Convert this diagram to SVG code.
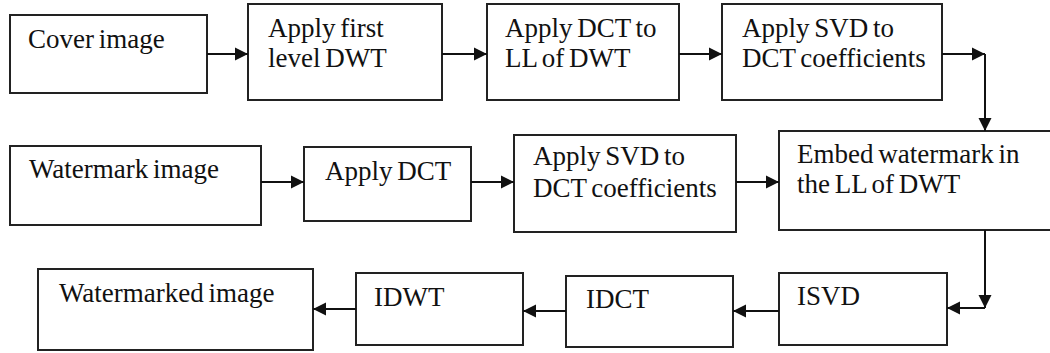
<svg xmlns="http://www.w3.org/2000/svg" width="1050" height="353" viewBox="0 0 1050 353">
  <style>
    .box { fill: #ffffff; stroke: #222222; stroke-width: 2; }
    .wire { fill: none; stroke: #111111; stroke-width: 2; }
    .lbl { font-family: 'Liberation Serif', 'Times New Roman', serif; font-size: 27px; word-spacing: -2px; fill: #111111; }
  </style>
  <defs>
    <marker id="head" markerUnits="userSpaceOnUse" markerWidth="14" markerHeight="14" refX="13" refY="7" orient="auto">
      <path d="M0,0.5 L13,7 L0,13.5 z" fill="#111111"/>
    </marker>
  </defs>
  <rect width="1050" height="353" fill="#ffffff"/>

  <!-- Row 1: cover image path -->
  <g id="cover">
    <rect class="box" x="10" y="15" width="197" height="78"/>
    <text class="lbl" x="28" y="48">Cover image</text>
  </g>
  <g id="dwt">
    <rect class="box" x="248" y="4" width="194" height="96"/>
    <text class="lbl" x="268" y="37">Apply first</text>
    <text class="lbl" x="268" y="67">level DWT</text>
  </g>
  <g id="dct-ll">
    <rect class="box" x="487" y="4" width="192" height="96"/>
    <text class="lbl" x="505" y="37">Apply DCT to</text>
    <text class="lbl" x="505" y="67">LL of DWT</text>
  </g>
  <g id="svd-cover">
    <rect class="box" x="722" y="4" width="220" height="96"/>
    <text class="lbl" x="742" y="37">Apply SVD to</text>
    <text class="lbl" x="742" y="67">DCT coefficients</text>
  </g>

  <!-- Row 2: watermark path -->
  <g id="watermark">
    <rect class="box" x="10" y="146" width="251" height="79"/>
    <text class="lbl" x="29" y="178">Watermark image</text>
  </g>
  <g id="dct-wm">
    <rect class="box" x="304" y="147" width="167" height="74"/>
    <text class="lbl" x="325" y="180">Apply DCT</text>
  </g>
  <g id="svd-wm">
    <rect class="box" x="514" y="135" width="222" height="97"/>
    <text class="lbl" x="533" y="165">Apply SVD to</text>
    <text class="lbl" x="533" y="197">DCT coefficients</text>
  </g>
  <g id="embed">
    <rect class="box" x="779" y="131" width="275" height="99"/>
    <text class="lbl" x="797" y="163">Embed watermark in</text>
    <text class="lbl" x="797" y="193">the LL of DWT</text>
  </g>

  <!-- Row 3: inverse transforms -->
  <g id="watermarked">
    <rect class="box" x="38" y="269" width="275" height="81"/>
    <text class="lbl" x="59" y="302">Watermarked image</text>
  </g>
  <g id="idwt">
    <rect class="box" x="356" y="273" width="167" height="72"/>
    <text class="lbl" x="374" y="306">IDWT</text>
  </g>
  <g id="idct">
    <rect class="box" x="566" y="276" width="167" height="71"/>
    <text class="lbl" x="586" y="308">IDCT</text>
  </g>
  <g id="isvd">
    <rect class="box" x="779" y="273" width="168" height="72"/>
    <text class="lbl" x="797" y="305">ISVD</text>
  </g>

  <!-- Connectors -->
  <g id="connectors">
    <path class="wire" d="M207,54 H248" marker-end="url(#head)"/>
    <path class="wire" d="M442,54 H487" marker-end="url(#head)"/>
    <path class="wire" d="M679,54 H722" marker-end="url(#head)"/>
    <path class="wire" d="M942,54 H985" marker-end="url(#head)"/>
    <path class="wire" d="M985,54 V131" marker-end="url(#head)"/>
    <path class="wire" d="M261,182 H304" marker-end="url(#head)"/>
    <path class="wire" d="M471,182 H514" marker-end="url(#head)"/>
    <path class="wire" d="M736,182 H779" marker-end="url(#head)"/>
    <path class="wire" d="M985,230 V308" marker-end="url(#head)"/>
    <path class="wire" d="M985,308 H947" marker-end="url(#head)"/>
    <path class="wire" d="M779,311 H733" marker-end="url(#head)"/>
    <path class="wire" d="M566,311 H523" marker-end="url(#head)"/>
    <path class="wire" d="M356,309 H313" marker-end="url(#head)"/>
  </g>
</svg>
